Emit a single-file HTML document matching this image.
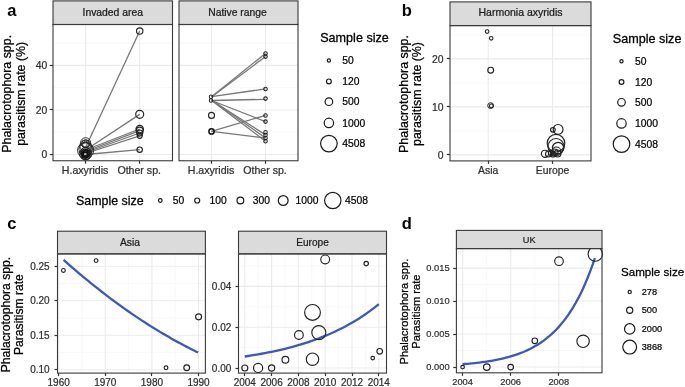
<!DOCTYPE html>
<html><head><meta charset="utf-8"><style>
html,body{margin:0;padding:0;background:#fff;}
body{width:685px;height:387px;overflow:hidden;}
svg{display:block;font-family:"Liberation Sans",sans-serif;will-change:transform;}
</style></head><body>
<svg width="685" height="387" viewBox="0 0 685 387">
<rect width="685" height="387" fill="#fff"/>
<text x="7.3" y="16" font-size="16.5" text-anchor="start" fill="#000" stroke="#000" stroke-width="0" font-weight="bold">a</text>
<line x1="53" y1="132.22" x2="172.5" y2="132.22" stroke="#f4f4f4" stroke-width="0.6"/>
<line x1="53" y1="87.67" x2="172.5" y2="87.67" stroke="#f4f4f4" stroke-width="0.6"/>
<line x1="53" y1="43.12" x2="172.5" y2="43.12" stroke="#f4f4f4" stroke-width="0.6"/>
<line x1="53" y1="154.5" x2="172.5" y2="154.5" stroke="#ebebeb" stroke-width="1.1"/>
<line x1="53" y1="109.95" x2="172.5" y2="109.95" stroke="#ebebeb" stroke-width="1.1"/>
<line x1="53" y1="65.4" x2="172.5" y2="65.4" stroke="#ebebeb" stroke-width="1.1"/>
<line x1="85.6" y1="24.5" x2="85.6" y2="160.75" stroke="#ebebeb" stroke-width="1.1"/>
<line x1="139.7" y1="24.5" x2="139.7" y2="160.75" stroke="#ebebeb" stroke-width="1.1"/>
<line x1="179" y1="132.22" x2="298" y2="132.22" stroke="#f4f4f4" stroke-width="0.6"/>
<line x1="179" y1="87.67" x2="298" y2="87.67" stroke="#f4f4f4" stroke-width="0.6"/>
<line x1="179" y1="43.12" x2="298" y2="43.12" stroke="#f4f4f4" stroke-width="0.6"/>
<line x1="179" y1="154.5" x2="298" y2="154.5" stroke="#ebebeb" stroke-width="1.1"/>
<line x1="179" y1="109.95" x2="298" y2="109.95" stroke="#ebebeb" stroke-width="1.1"/>
<line x1="179" y1="65.4" x2="298" y2="65.4" stroke="#ebebeb" stroke-width="1.1"/>
<line x1="211.5" y1="24.5" x2="211.5" y2="160.75" stroke="#ebebeb" stroke-width="1.1"/>
<line x1="265.5" y1="24.5" x2="265.5" y2="160.75" stroke="#ebebeb" stroke-width="1.1"/>
<line x1="85.6" y1="147.6" x2="139.7" y2="31" stroke="#777777" stroke-width="1.3"/>
<line x1="85.6" y1="150" x2="139.7" y2="114.4" stroke="#777777" stroke-width="1.3"/>
<line x1="85.6" y1="150" x2="139.7" y2="129" stroke="#777777" stroke-width="1.3"/>
<line x1="85.6" y1="151.5" x2="139.7" y2="130.6" stroke="#777777" stroke-width="1.3"/>
<line x1="85.6" y1="152.5" x2="139.7" y2="133" stroke="#777777" stroke-width="1.3"/>
<line x1="85.6" y1="153.5" x2="139.7" y2="135.8" stroke="#777777" stroke-width="1.3"/>
<line x1="85.6" y1="154.5" x2="139.7" y2="149.7" stroke="#777777" stroke-width="1.3"/>
<circle cx="85.6" cy="142.7" r="5" fill="none" stroke="#222222" stroke-width="0.9"/>
<circle cx="85.6" cy="143.6" r="4" fill="none" stroke="#222222" stroke-width="0.9"/>
<circle cx="85.6" cy="144.3" r="3" fill="none" stroke="#222222" stroke-width="0.9"/>
<circle cx="85.6" cy="146" r="5.8" fill="none" stroke="#222222" stroke-width="0.9"/>
<circle cx="85.6" cy="150.3" r="8" fill="none" stroke="#222222" stroke-width="1"/>
<circle cx="85.6" cy="149.5" r="6.6" fill="none" stroke="#222222" stroke-width="0.9"/>
<circle cx="85.6" cy="152.5" r="5.2" fill="none" stroke="#222222" stroke-width="1"/>
<circle cx="85.6" cy="153.2" r="4.2" fill="none" stroke="#222222" stroke-width="1.1"/>
<circle cx="85.6" cy="154" r="3.4" fill="none" stroke="#222222" stroke-width="1.3"/>
<circle cx="85.6" cy="155" r="4.6" fill="none" stroke="#222222" stroke-width="1.1"/>
<circle cx="85.6" cy="153.8" r="6.2" fill="none" stroke="#222222" stroke-width="0.9"/>
<circle cx="85.6" cy="154.5" r="2.2" fill="none" stroke="#222222" stroke-width="1.6"/>
<circle cx="84.6" cy="152.6" r="3.4" fill="none" stroke="#111" stroke-width="1"/>
<circle cx="86.6" cy="153.4" r="3.6" fill="none" stroke="#111" stroke-width="1"/>
<circle cx="85.1" cy="155.2" r="3" fill="none" stroke="#111" stroke-width="1.2"/>
<circle cx="139.7" cy="31" r="3.2" fill="none" stroke="#222222" stroke-width="1.15"/>
<circle cx="139.7" cy="114.3" r="4" fill="none" stroke="#222222" stroke-width="1.15"/>
<circle cx="139.7" cy="129" r="3.7" fill="none" stroke="#222222" stroke-width="1.15"/>
<circle cx="139.7" cy="130.6" r="3.5" fill="none" stroke="#222222" stroke-width="1.15"/>
<circle cx="139.7" cy="133" r="3" fill="none" stroke="#222222" stroke-width="1.15"/>
<circle cx="139.7" cy="135.8" r="2.5" fill="none" stroke="#222222" stroke-width="1.15"/>
<circle cx="139.7" cy="149.7" r="2.7" fill="none" stroke="#222222" stroke-width="1.15"/>
<line x1="211.5" y1="96.7" x2="265.5" y2="53.4" stroke="#777777" stroke-width="1.3"/>
<line x1="211.5" y1="96.9" x2="265.5" y2="56.6" stroke="#777777" stroke-width="1.3"/>
<line x1="211.5" y1="96.7" x2="265.5" y2="88.9" stroke="#777777" stroke-width="1.3"/>
<line x1="211.5" y1="100.5" x2="265.5" y2="99.3" stroke="#777777" stroke-width="1.3"/>
<line x1="211.5" y1="100.5" x2="265.5" y2="121.6" stroke="#777777" stroke-width="1.3"/>
<line x1="211.5" y1="100.3" x2="265.5" y2="134.9" stroke="#777777" stroke-width="1.3"/>
<line x1="211.5" y1="100" x2="265.5" y2="138" stroke="#777777" stroke-width="1.3"/>
<line x1="211.5" y1="100.5" x2="265.5" y2="141.2" stroke="#777777" stroke-width="1.3"/>
<line x1="211.5" y1="131.3" x2="265.5" y2="115.4" stroke="#777777" stroke-width="1.3"/>
<line x1="211.5" y1="131.3" x2="265.5" y2="138" stroke="#777777" stroke-width="1.3"/>
<circle cx="211" cy="96.7" r="1.7" fill="none" stroke="#222222" stroke-width="1.05"/>
<circle cx="211" cy="100.5" r="1.7" fill="none" stroke="#222222" stroke-width="1.05"/>
<circle cx="211.5" cy="115.4" r="3" fill="none" stroke="#222222" stroke-width="1.15"/>
<circle cx="211.5" cy="131.4" r="2.6" fill="none" stroke="#111" stroke-width="1.5"/>
<circle cx="265.5" cy="53.4" r="1.75" fill="none" stroke="#222222" stroke-width="1.05"/>
<circle cx="265.5" cy="56.6" r="1.75" fill="none" stroke="#222222" stroke-width="1.05"/>
<circle cx="265.5" cy="88.9" r="1.75" fill="none" stroke="#222222" stroke-width="1.05"/>
<circle cx="265.5" cy="98.6" r="1.75" fill="none" stroke="#222222" stroke-width="1.05"/>
<circle cx="265.5" cy="115.4" r="1.75" fill="none" stroke="#222222" stroke-width="1.05"/>
<circle cx="265.5" cy="121.6" r="1.75" fill="none" stroke="#222222" stroke-width="1.05"/>
<circle cx="265.5" cy="132.2" r="1.75" fill="none" stroke="#222222" stroke-width="1.05"/>
<circle cx="265.5" cy="134.9" r="1.75" fill="none" stroke="#222222" stroke-width="1.05"/>
<circle cx="265.5" cy="138" r="1.75" fill="none" stroke="#222222" stroke-width="1.05"/>
<circle cx="265.5" cy="141.2" r="1.75" fill="none" stroke="#222222" stroke-width="1.05"/>
<rect x="53" y="0.9" width="119.5" height="23.6" fill="#dbdbdb" stroke="#3a3a3a" stroke-width="1.1"/>
<rect x="53" y="24.5" width="119.5" height="136.25" fill="none" stroke="#3a3a3a" stroke-width="1.1"/>
<text x="112.75" y="15.8" font-size="10.35" text-anchor="middle" fill="#1a1a1a" stroke="#1a1a1a" stroke-width="0.228" font-weight="normal">Invaded area</text>
<rect x="179" y="0.9" width="119" height="23.6" fill="#dbdbdb" stroke="#3a3a3a" stroke-width="1.1"/>
<rect x="179" y="24.5" width="119" height="136.25" fill="none" stroke="#3a3a3a" stroke-width="1.1"/>
<text x="237.5" y="15.8" font-size="10.35" text-anchor="middle" fill="#1a1a1a" stroke="#1a1a1a" stroke-width="0.228" font-weight="normal">Native range</text>
<line x1="49.8" y1="154.5" x2="53" y2="154.5" stroke="#333333" stroke-width="1.2"/>
<text x="47.3" y="158.24" font-size="10.4" text-anchor="end" fill="#2e2e2e" stroke="#2e2e2e" stroke-width="0.229" font-weight="normal">0</text>
<line x1="49.8" y1="109.5" x2="53" y2="109.5" stroke="#333333" stroke-width="1.2"/>
<text x="47.3" y="113.69" font-size="10.4" text-anchor="end" fill="#2e2e2e" stroke="#2e2e2e" stroke-width="0.229" font-weight="normal">20</text>
<line x1="49.8" y1="65.5" x2="53" y2="65.5" stroke="#333333" stroke-width="1.2"/>
<text x="47.3" y="69.14" font-size="10.4" text-anchor="end" fill="#2e2e2e" stroke="#2e2e2e" stroke-width="0.229" font-weight="normal">40</text>
<line x1="85.5" y1="160.75" x2="85.5" y2="163.75" stroke="#333333" stroke-width="1.2"/>
<text x="85.1" y="173.6" font-size="10.6" text-anchor="middle" fill="#2e2e2e" stroke="#2e2e2e" stroke-width="0.233" font-weight="normal">H.axyridis</text>
<line x1="139.5" y1="160.75" x2="139.5" y2="163.75" stroke="#333333" stroke-width="1.2"/>
<text x="139.2" y="173.6" font-size="10.6" text-anchor="middle" fill="#2e2e2e" stroke="#2e2e2e" stroke-width="0.233" font-weight="normal">Other sp.</text>
<line x1="211.5" y1="160.75" x2="211.5" y2="163.75" stroke="#333333" stroke-width="1.2"/>
<text x="211" y="173.6" font-size="10.6" text-anchor="middle" fill="#2e2e2e" stroke="#2e2e2e" stroke-width="0.233" font-weight="normal">H.axyridis</text>
<line x1="265.5" y1="160.75" x2="265.5" y2="163.75" stroke="#333333" stroke-width="1.2"/>
<text x="265" y="173.6" font-size="10.6" text-anchor="middle" fill="#2e2e2e" stroke="#2e2e2e" stroke-width="0.233" font-weight="normal">Other sp.</text>
<text transform="translate(10.8 93.8) rotate(-90)" font-size="12.4" text-anchor="middle" fill="#000" stroke="#000" stroke-width="0.273">Phalacrotophora spp.</text>
<text transform="translate(24.7 93.8) rotate(-90)" font-size="12.4" text-anchor="middle" fill="#000" stroke="#000" stroke-width="0.273">parasitism rate (%)</text>
<text x="320.2" y="42.2" font-size="12.6" text-anchor="start" fill="#000" stroke="#000" stroke-width="0.277" font-weight="normal">Sample size</text>
<circle cx="328.9" cy="60.5" r="1.6" fill="none" stroke="#1a1a1a" stroke-width="1.2"/>
<text x="342.3" y="64.1" font-size="10.3" text-anchor="start" fill="#000" stroke="#000" stroke-width="0.227" font-weight="normal">50</text>
<circle cx="328.9" cy="81.4" r="2.4" fill="none" stroke="#1a1a1a" stroke-width="1.2"/>
<text x="342.3" y="85" font-size="10.3" text-anchor="start" fill="#000" stroke="#000" stroke-width="0.227" font-weight="normal">120</text>
<circle cx="328.9" cy="101.7" r="3.8" fill="none" stroke="#1a1a1a" stroke-width="1.2"/>
<text x="342.3" y="105.3" font-size="10.3" text-anchor="start" fill="#000" stroke="#000" stroke-width="0.227" font-weight="normal">500</text>
<circle cx="328.9" cy="122.9" r="4.7" fill="none" stroke="#1a1a1a" stroke-width="1.2"/>
<text x="342.3" y="126.5" font-size="10.3" text-anchor="start" fill="#000" stroke="#000" stroke-width="0.227" font-weight="normal">1000</text>
<circle cx="328.9" cy="143.6" r="8.3" fill="none" stroke="#1a1a1a" stroke-width="1.2"/>
<text x="342.3" y="147.2" font-size="10.3" text-anchor="start" fill="#000" stroke="#000" stroke-width="0.227" font-weight="normal">4508</text>
<text x="76.1" y="205" font-size="12.4" text-anchor="start" fill="#000" stroke="#000" stroke-width="0.273" font-weight="normal">Sample size</text>
<circle cx="160.3" cy="200.5" r="1.8" fill="none" stroke="#1a1a1a" stroke-width="1.2"/>
<text x="172.7" y="204.1" font-size="10.3" text-anchor="start" fill="#000" stroke="#000" stroke-width="0.227" font-weight="normal">50</text>
<circle cx="197.2" cy="200.5" r="2.5" fill="none" stroke="#1a1a1a" stroke-width="1.2"/>
<text x="209.6" y="204.1" font-size="10.3" text-anchor="start" fill="#000" stroke="#000" stroke-width="0.227" font-weight="normal">100</text>
<circle cx="240.4" cy="200.5" r="3.4" fill="none" stroke="#1a1a1a" stroke-width="1.2"/>
<text x="252.8" y="204.1" font-size="10.3" text-anchor="start" fill="#000" stroke="#000" stroke-width="0.227" font-weight="normal">300</text>
<circle cx="283.2" cy="200.5" r="4.9" fill="none" stroke="#1a1a1a" stroke-width="1.2"/>
<text x="295.6" y="204.1" font-size="10.3" text-anchor="start" fill="#000" stroke="#000" stroke-width="0.227" font-weight="normal">1000</text>
<circle cx="332.8" cy="200.5" r="8.2" fill="none" stroke="#1a1a1a" stroke-width="1.2"/>
<text x="345" y="204.1" font-size="10.3" text-anchor="start" fill="#000" stroke="#000" stroke-width="0.227" font-weight="normal">4508</text>
<text x="401.8" y="16" font-size="16.5" text-anchor="start" fill="#000" stroke="#000" stroke-width="0" font-weight="bold">b</text>
<line x1="450" y1="130.9" x2="591" y2="130.9" stroke="#f4f4f4" stroke-width="0.6"/>
<line x1="450" y1="82.9" x2="591" y2="82.9" stroke="#f4f4f4" stroke-width="0.6"/>
<line x1="450" y1="34.9" x2="591" y2="34.9" stroke="#f4f4f4" stroke-width="0.6"/>
<line x1="450" y1="154.9" x2="591" y2="154.9" stroke="#ebebeb" stroke-width="1.1"/>
<line x1="450" y1="106.9" x2="591" y2="106.9" stroke="#ebebeb" stroke-width="1.1"/>
<line x1="450" y1="58.9" x2="591" y2="58.9" stroke="#ebebeb" stroke-width="1.1"/>
<line x1="488.2" y1="25.6" x2="488.2" y2="160.9" stroke="#ebebeb" stroke-width="1.1"/>
<line x1="552.6" y1="25.6" x2="552.6" y2="160.9" stroke="#ebebeb" stroke-width="1.1"/>
<circle cx="487.1" cy="31.6" r="1.8" fill="none" stroke="#222222" stroke-width="1.1"/>
<circle cx="491.2" cy="38.3" r="1.8" fill="none" stroke="#222222" stroke-width="1.1"/>
<circle cx="490.7" cy="70.2" r="2.9" fill="none" stroke="#222222" stroke-width="1.15"/>
<circle cx="490.6" cy="105.6" r="2.9" fill="none" stroke="#222222" stroke-width="1"/>
<circle cx="491.3" cy="105.9" r="1.9" fill="none" stroke="#222222" stroke-width="1.15"/>
<circle cx="552.9" cy="129.8" r="2.3" fill="none" stroke="#222222" stroke-width="1.15"/>
<circle cx="558.1" cy="129.4" r="4.9" fill="none" stroke="#222222" stroke-width="1.15"/>
<circle cx="556" cy="143.2" r="8.8" fill="none" stroke="#222222" stroke-width="1.15"/>
<circle cx="556" cy="146.5" r="8" fill="none" stroke="#222222" stroke-width="1.15"/>
<circle cx="558.1" cy="148" r="5.7" fill="none" stroke="#222222" stroke-width="1.15"/>
<circle cx="556.5" cy="151.5" r="4.5" fill="none" stroke="#222222" stroke-width="1.15"/>
<circle cx="554.5" cy="152.5" r="3.5" fill="none" stroke="#222222" stroke-width="1.15"/>
<circle cx="557.5" cy="153.5" r="3.5" fill="none" stroke="#222222" stroke-width="1.15"/>
<circle cx="545" cy="153.8" r="3.6" fill="none" stroke="#222222" stroke-width="1.15"/>
<circle cx="548.5" cy="154" r="3" fill="none" stroke="#222222" stroke-width="1.15"/>
<circle cx="553" cy="154.5" r="2.5" fill="none" stroke="#222222" stroke-width="1.15"/>
<circle cx="551" cy="153" r="2.5" fill="none" stroke="#222222" stroke-width="1.15"/>
<rect x="450" y="1.9" width="141" height="23.7" fill="#dbdbdb" stroke="#3a3a3a" stroke-width="1.1"/>
<rect x="450" y="25.6" width="141" height="135.3" fill="none" stroke="#3a3a3a" stroke-width="1.1"/>
<text x="520.5" y="16.2" font-size="10.5" text-anchor="middle" fill="#1a1a1a" stroke="#1a1a1a" stroke-width="0.231" font-weight="normal">Harmonia axyridis</text>
<line x1="446.8" y1="154.5" x2="450" y2="154.5" stroke="#333333" stroke-width="1.2"/>
<text x="443.6" y="158.64" font-size="10.4" text-anchor="end" fill="#2e2e2e" stroke="#2e2e2e" stroke-width="0.229" font-weight="normal">0</text>
<line x1="446.8" y1="106.5" x2="450" y2="106.5" stroke="#333333" stroke-width="1.2"/>
<text x="443.6" y="110.64" font-size="10.4" text-anchor="end" fill="#2e2e2e" stroke="#2e2e2e" stroke-width="0.229" font-weight="normal">10</text>
<line x1="446.8" y1="58.5" x2="450" y2="58.5" stroke="#333333" stroke-width="1.2"/>
<text x="443.6" y="62.64" font-size="10.4" text-anchor="end" fill="#2e2e2e" stroke="#2e2e2e" stroke-width="0.229" font-weight="normal">20</text>
<line x1="488.5" y1="160.9" x2="488.5" y2="163.9" stroke="#333333" stroke-width="1.2"/>
<text x="488.2" y="174.2" font-size="10.4" text-anchor="middle" fill="#2e2e2e" stroke="#2e2e2e" stroke-width="0.229" font-weight="normal">Asia</text>
<line x1="552.5" y1="160.9" x2="552.5" y2="163.9" stroke="#333333" stroke-width="1.2"/>
<text x="552.6" y="174.2" font-size="10.4" text-anchor="middle" fill="#2e2e2e" stroke="#2e2e2e" stroke-width="0.229" font-weight="normal">Europe</text>
<text transform="translate(407.5 94) rotate(-90)" font-size="12.4" text-anchor="middle" fill="#000" stroke="#000" stroke-width="0.273">Phalacrotophora spp.</text>
<text transform="translate(421.4 94) rotate(-90)" font-size="12.4" text-anchor="middle" fill="#000" stroke="#000" stroke-width="0.273">parasitism rate (%)</text>
<text x="612.8" y="42.7" font-size="12.6" text-anchor="start" fill="#000" stroke="#000" stroke-width="0.277" font-weight="normal">Sample size</text>
<circle cx="621.5" cy="61.2" r="1.6" fill="none" stroke="#1a1a1a" stroke-width="1.2"/>
<text x="635" y="64.8" font-size="10.3" text-anchor="start" fill="#000" stroke="#000" stroke-width="0.227" font-weight="normal">50</text>
<circle cx="621.5" cy="82" r="2.4" fill="none" stroke="#1a1a1a" stroke-width="1.2"/>
<text x="635" y="85.6" font-size="10.3" text-anchor="start" fill="#000" stroke="#000" stroke-width="0.227" font-weight="normal">120</text>
<circle cx="621.5" cy="102.3" r="3.8" fill="none" stroke="#1a1a1a" stroke-width="1.2"/>
<text x="635" y="105.9" font-size="10.3" text-anchor="start" fill="#000" stroke="#000" stroke-width="0.227" font-weight="normal">500</text>
<circle cx="621.5" cy="123.4" r="4.7" fill="none" stroke="#1a1a1a" stroke-width="1.2"/>
<text x="635" y="127" font-size="10.3" text-anchor="start" fill="#000" stroke="#000" stroke-width="0.227" font-weight="normal">1000</text>
<circle cx="621.5" cy="144.1" r="8.3" fill="none" stroke="#1a1a1a" stroke-width="1.2"/>
<text x="635" y="147.7" font-size="10.3" text-anchor="start" fill="#000" stroke="#000" stroke-width="0.227" font-weight="normal">4508</text>
<text x="7.3" y="228.8" font-size="16.5" text-anchor="start" fill="#000" stroke="#000" stroke-width="0" font-weight="bold">c</text>
<line x1="57.5" y1="352.55" x2="205.4" y2="352.55" stroke="#f4f4f4" stroke-width="0.6"/>
<line x1="57.5" y1="318.05" x2="205.4" y2="318.05" stroke="#f4f4f4" stroke-width="0.6"/>
<line x1="57.5" y1="283.55" x2="205.4" y2="283.55" stroke="#f4f4f4" stroke-width="0.6"/>
<line x1="82" y1="253.9" x2="82" y2="373.1" stroke="#f4f4f4" stroke-width="0.6"/>
<line x1="128.6" y1="253.9" x2="128.6" y2="373.1" stroke="#f4f4f4" stroke-width="0.6"/>
<line x1="175.2" y1="253.9" x2="175.2" y2="373.1" stroke="#f4f4f4" stroke-width="0.6"/>
<line x1="57.5" y1="369.8" x2="205.4" y2="369.8" stroke="#ebebeb" stroke-width="1.1"/>
<line x1="57.5" y1="335.3" x2="205.4" y2="335.3" stroke="#ebebeb" stroke-width="1.1"/>
<line x1="57.5" y1="300.8" x2="205.4" y2="300.8" stroke="#ebebeb" stroke-width="1.1"/>
<line x1="57.5" y1="266.3" x2="205.4" y2="266.3" stroke="#ebebeb" stroke-width="1.1"/>
<line x1="58.7" y1="253.9" x2="58.7" y2="373.1" stroke="#ebebeb" stroke-width="1.1"/>
<line x1="105.3" y1="253.9" x2="105.3" y2="373.1" stroke="#ebebeb" stroke-width="1.1"/>
<line x1="151.9" y1="253.9" x2="151.9" y2="373.1" stroke="#ebebeb" stroke-width="1.1"/>
<line x1="198.5" y1="253.9" x2="198.5" y2="373.1" stroke="#ebebeb" stroke-width="1.1"/>
<line x1="238.5" y1="347.6" x2="386.5" y2="347.6" stroke="#f4f4f4" stroke-width="0.6"/>
<line x1="238.5" y1="306.8" x2="386.5" y2="306.8" stroke="#f4f4f4" stroke-width="0.6"/>
<line x1="238.5" y1="266" x2="386.5" y2="266" stroke="#f4f4f4" stroke-width="0.6"/>
<line x1="258.2" y1="253.9" x2="258.2" y2="373.1" stroke="#f4f4f4" stroke-width="0.6"/>
<line x1="285" y1="253.9" x2="285" y2="373.1" stroke="#f4f4f4" stroke-width="0.6"/>
<line x1="311.8" y1="253.9" x2="311.8" y2="373.1" stroke="#f4f4f4" stroke-width="0.6"/>
<line x1="338.6" y1="253.9" x2="338.6" y2="373.1" stroke="#f4f4f4" stroke-width="0.6"/>
<line x1="365.4" y1="253.9" x2="365.4" y2="373.1" stroke="#f4f4f4" stroke-width="0.6"/>
<line x1="238.5" y1="368" x2="386.5" y2="368" stroke="#ebebeb" stroke-width="1.1"/>
<line x1="238.5" y1="327.2" x2="386.5" y2="327.2" stroke="#ebebeb" stroke-width="1.1"/>
<line x1="238.5" y1="286.4" x2="386.5" y2="286.4" stroke="#ebebeb" stroke-width="1.1"/>
<line x1="244.8" y1="253.9" x2="244.8" y2="373.1" stroke="#ebebeb" stroke-width="1.1"/>
<line x1="271.6" y1="253.9" x2="271.6" y2="373.1" stroke="#ebebeb" stroke-width="1.1"/>
<line x1="298.4" y1="253.9" x2="298.4" y2="373.1" stroke="#ebebeb" stroke-width="1.1"/>
<line x1="325.2" y1="253.9" x2="325.2" y2="373.1" stroke="#ebebeb" stroke-width="1.1"/>
<line x1="352" y1="253.9" x2="352" y2="373.1" stroke="#ebebeb" stroke-width="1.1"/>
<line x1="378.8" y1="253.9" x2="378.8" y2="373.1" stroke="#ebebeb" stroke-width="1.1"/>
<polyline points="63.6,259.87 65.84,261.87 68.08,263.85 70.33,265.81 72.57,267.76 74.81,269.7 77.05,271.62 79.29,273.52 81.53,275.41 83.78,277.28 86.02,279.14 88.26,280.98 90.5,282.81 92.74,284.62 94.98,286.42 97.22,288.2 99.47,289.97 101.71,291.72 103.95,293.45 106.19,295.17 108.43,296.88 110.68,298.57 112.92,300.24 115.16,301.9 117.4,303.54 119.64,305.17 121.88,306.78 124.12,308.38 126.37,309.96 128.61,311.53 130.85,313.08 133.09,314.62 135.33,316.14 137.57,317.65 139.82,319.14 142.06,320.61 144.3,322.07 146.54,323.51 148.78,324.94 151.03,326.36 153.27,327.76 155.51,329.14 157.75,330.51 159.99,331.86 162.23,333.2 164.47,334.52 166.72,335.82 168.96,337.11 171.2,338.39 173.44,339.65 175.68,340.9 177.93,342.13 180.17,343.34 182.41,344.54 184.65,345.72 186.89,346.89 189.13,348.04 191.38,349.18 193.62,350.3 195.86,351.41 198.1,352.5" fill="none" stroke="#3d59b5" stroke-width="2.3" stroke-linecap="butt"/>
<circle cx="63.4" cy="270.4" r="1.9" fill="none" stroke="#222222" stroke-width="1.15"/>
<circle cx="96.1" cy="260.6" r="1.9" fill="none" stroke="#222222" stroke-width="1.15"/>
<circle cx="166" cy="367.7" r="1.9" fill="none" stroke="#222222" stroke-width="1.15"/>
<circle cx="186.7" cy="367.7" r="2.9" fill="none" stroke="#222222" stroke-width="1.15"/>
<circle cx="198.6" cy="316.8" r="3" fill="none" stroke="#222222" stroke-width="1.15"/>
<polyline points="244.8,356.49 248.15,355.99 251.5,355.47 254.85,354.92 258.2,354.34 261.55,353.75 264.9,353.12 268.25,352.47 271.6,351.79 274.95,351.08 278.3,350.34 281.65,349.57 285,348.76 288.35,347.92 291.7,347.04 295.05,346.13 298.4,345.17 301.75,344.17 305.1,343.13 308.45,342.04 311.8,340.91 315.15,339.72 318.5,338.48 321.85,337.19 325.2,335.84 328.55,334.44 331.9,332.97 335.25,331.43 338.6,329.83 341.95,328.16 345.3,326.42 348.65,324.6 352,322.7 355.35,320.72 358.7,318.65 362.05,316.49 365.4,314.24 368.75,311.89 372.1,309.43 375.45,306.87 378.8,304.19" fill="none" stroke="#3d59b5" stroke-width="2.3"/>
<clipPath id="cce"><rect x="238.5" y="253.9" width="148" height="119.2"/></clipPath>
<circle cx="244.8" cy="368" r="3" fill="none" stroke="#222222" stroke-width="1.15" clip-path="url(#cce)"/>
<circle cx="258.1" cy="367.9" r="4.6" fill="none" stroke="#222222" stroke-width="1.15" clip-path="url(#cce)"/>
<circle cx="271.6" cy="368" r="3.1" fill="none" stroke="#222222" stroke-width="1.15" clip-path="url(#cce)"/>
<circle cx="285.4" cy="359.7" r="3.4" fill="none" stroke="#222222" stroke-width="1.15" clip-path="url(#cce)"/>
<circle cx="298.9" cy="335" r="4.4" fill="none" stroke="#222222" stroke-width="1.15" clip-path="url(#cce)"/>
<circle cx="312.5" cy="312.4" r="7.9" fill="none" stroke="#222222" stroke-width="1.15" clip-path="url(#cce)"/>
<circle cx="312.5" cy="359.2" r="6.2" fill="none" stroke="#222222" stroke-width="1.15" clip-path="url(#cce)"/>
<circle cx="318.8" cy="332.6" r="7" fill="none" stroke="#222222" stroke-width="1.15" clip-path="url(#cce)"/>
<circle cx="325.2" cy="259.4" r="4.4" fill="none" stroke="#222222" stroke-width="1.15" clip-path="url(#cce)"/>
<circle cx="366.2" cy="263.6" r="2.2" fill="none" stroke="#222222" stroke-width="1.15" clip-path="url(#cce)"/>
<circle cx="372.7" cy="358.1" r="1.8" fill="none" stroke="#222222" stroke-width="1.15" clip-path="url(#cce)"/>
<circle cx="379.7" cy="351.3" r="2.8" fill="none" stroke="#222222" stroke-width="1.15" clip-path="url(#cce)"/>
<rect x="57.5" y="231.2" width="147.9" height="22.7" fill="#dbdbdb" stroke="#3a3a3a" stroke-width="1.1"/>
<rect x="57.5" y="253.9" width="147.9" height="119.2" fill="none" stroke="#3a3a3a" stroke-width="1.1"/>
<text x="129.95" y="245.5" font-size="10.3" text-anchor="middle" fill="#1a1a1a" stroke="#1a1a1a" stroke-width="0.227" font-weight="normal">Asia</text>
<rect x="238.5" y="231.2" width="148" height="22.7" fill="#dbdbdb" stroke="#3a3a3a" stroke-width="1.1"/>
<rect x="238.5" y="253.9" width="148" height="119.2" fill="none" stroke="#3a3a3a" stroke-width="1.1"/>
<text x="312.5" y="245.5" font-size="10.1" text-anchor="middle" fill="#1a1a1a" stroke="#1a1a1a" stroke-width="0.222" font-weight="normal">Europe</text>
<line x1="54.5" y1="369.5" x2="57.5" y2="369.5" stroke="#333333" stroke-width="1.2"/>
<text x="49.6" y="373.4" font-size="10" text-anchor="end" fill="#2e2e2e" stroke="#2e2e2e" stroke-width="0.22" font-weight="normal">0.10</text>
<line x1="54.5" y1="335.5" x2="57.5" y2="335.5" stroke="#333333" stroke-width="1.2"/>
<text x="49.6" y="338.9" font-size="10" text-anchor="end" fill="#2e2e2e" stroke="#2e2e2e" stroke-width="0.22" font-weight="normal">0.15</text>
<line x1="54.5" y1="300.5" x2="57.5" y2="300.5" stroke="#333333" stroke-width="1.2"/>
<text x="49.6" y="304.4" font-size="10" text-anchor="end" fill="#2e2e2e" stroke="#2e2e2e" stroke-width="0.22" font-weight="normal">0.20</text>
<line x1="54.5" y1="266.5" x2="57.5" y2="266.5" stroke="#333333" stroke-width="1.2"/>
<text x="49.6" y="269.9" font-size="10" text-anchor="end" fill="#2e2e2e" stroke="#2e2e2e" stroke-width="0.22" font-weight="normal">0.25</text>
<line x1="235.5" y1="368.5" x2="238.5" y2="368.5" stroke="#333333" stroke-width="1.2"/>
<text x="231.3" y="371.6" font-size="10" text-anchor="end" fill="#2e2e2e" stroke="#2e2e2e" stroke-width="0.22" font-weight="normal">0.00</text>
<line x1="235.5" y1="327.5" x2="238.5" y2="327.5" stroke="#333333" stroke-width="1.2"/>
<text x="231.3" y="330.8" font-size="10" text-anchor="end" fill="#2e2e2e" stroke="#2e2e2e" stroke-width="0.22" font-weight="normal">0.02</text>
<line x1="235.5" y1="286.5" x2="238.5" y2="286.5" stroke="#333333" stroke-width="1.2"/>
<text x="231.3" y="290" font-size="10" text-anchor="end" fill="#2e2e2e" stroke="#2e2e2e" stroke-width="0.22" font-weight="normal">0.04</text>
<line x1="58.5" y1="373.1" x2="58.5" y2="376.1" stroke="#333333" stroke-width="1.2"/>
<text x="58.7" y="386" font-size="10" text-anchor="middle" fill="#2e2e2e" stroke="#2e2e2e" stroke-width="0.22" font-weight="normal">1960</text>
<line x1="105.5" y1="373.1" x2="105.5" y2="376.1" stroke="#333333" stroke-width="1.2"/>
<text x="105.3" y="386" font-size="10" text-anchor="middle" fill="#2e2e2e" stroke="#2e2e2e" stroke-width="0.22" font-weight="normal">1970</text>
<line x1="151.5" y1="373.1" x2="151.5" y2="376.1" stroke="#333333" stroke-width="1.2"/>
<text x="151.9" y="386" font-size="10" text-anchor="middle" fill="#2e2e2e" stroke="#2e2e2e" stroke-width="0.22" font-weight="normal">1980</text>
<line x1="198.5" y1="373.1" x2="198.5" y2="376.1" stroke="#333333" stroke-width="1.2"/>
<text x="198.5" y="386" font-size="10" text-anchor="middle" fill="#2e2e2e" stroke="#2e2e2e" stroke-width="0.22" font-weight="normal">1990</text>
<line x1="244.5" y1="373.1" x2="244.5" y2="376.1" stroke="#333333" stroke-width="1.2"/>
<text x="244.8" y="386" font-size="10" text-anchor="middle" fill="#2e2e2e" stroke="#2e2e2e" stroke-width="0.22" font-weight="normal">2004</text>
<line x1="271.5" y1="373.1" x2="271.5" y2="376.1" stroke="#333333" stroke-width="1.2"/>
<text x="271.6" y="386" font-size="10" text-anchor="middle" fill="#2e2e2e" stroke="#2e2e2e" stroke-width="0.22" font-weight="normal">2006</text>
<line x1="298.5" y1="373.1" x2="298.5" y2="376.1" stroke="#333333" stroke-width="1.2"/>
<text x="298.4" y="386" font-size="10" text-anchor="middle" fill="#2e2e2e" stroke="#2e2e2e" stroke-width="0.22" font-weight="normal">2008</text>
<line x1="325.5" y1="373.1" x2="325.5" y2="376.1" stroke="#333333" stroke-width="1.2"/>
<text x="325.2" y="386" font-size="10" text-anchor="middle" fill="#2e2e2e" stroke="#2e2e2e" stroke-width="0.22" font-weight="normal">2010</text>
<line x1="352.5" y1="373.1" x2="352.5" y2="376.1" stroke="#333333" stroke-width="1.2"/>
<text x="352" y="386" font-size="10" text-anchor="middle" fill="#2e2e2e" stroke="#2e2e2e" stroke-width="0.22" font-weight="normal">2012</text>
<line x1="378.5" y1="373.1" x2="378.5" y2="376.1" stroke="#333333" stroke-width="1.2"/>
<text x="378.8" y="386" font-size="10" text-anchor="middle" fill="#2e2e2e" stroke="#2e2e2e" stroke-width="0.22" font-weight="normal">2014</text>
<text transform="translate(10 314.6) rotate(-90)" font-size="12.15" text-anchor="middle" fill="#000" stroke="#000" stroke-width="0.267">Phalacrotophora spp.</text>
<text transform="translate(23.2 314.6) rotate(-90)" font-size="12.15" text-anchor="middle" fill="#000" stroke="#000" stroke-width="0.267">Parasitism rate</text>
<text x="401.8" y="228.6" font-size="16.5" text-anchor="start" fill="#000" stroke="#000" stroke-width="0" font-weight="bold">d</text>
<line x1="456.4" y1="350.51" x2="602" y2="350.51" stroke="#f4f4f4" stroke-width="0.6"/>
<line x1="456.4" y1="317.55" x2="602" y2="317.55" stroke="#f4f4f4" stroke-width="0.6"/>
<line x1="456.4" y1="284.57" x2="602" y2="284.57" stroke="#f4f4f4" stroke-width="0.6"/>
<line x1="456.4" y1="251.6" x2="602" y2="251.6" stroke="#f4f4f4" stroke-width="0.6"/>
<line x1="486.65" y1="248.6" x2="486.65" y2="372.8" stroke="#f4f4f4" stroke-width="0.6"/>
<line x1="534.75" y1="248.6" x2="534.75" y2="372.8" stroke="#f4f4f4" stroke-width="0.6"/>
<line x1="582.85" y1="248.6" x2="582.85" y2="372.8" stroke="#f4f4f4" stroke-width="0.6"/>
<line x1="456.4" y1="367" x2="602" y2="367" stroke="#ebebeb" stroke-width="1.1"/>
<line x1="456.4" y1="334.03" x2="602" y2="334.03" stroke="#ebebeb" stroke-width="1.1"/>
<line x1="456.4" y1="301.06" x2="602" y2="301.06" stroke="#ebebeb" stroke-width="1.1"/>
<line x1="456.4" y1="268.09" x2="602" y2="268.09" stroke="#ebebeb" stroke-width="1.1"/>
<line x1="462.6" y1="248.6" x2="462.6" y2="372.8" stroke="#ebebeb" stroke-width="1.1"/>
<line x1="510.7" y1="248.6" x2="510.7" y2="372.8" stroke="#ebebeb" stroke-width="1.1"/>
<line x1="558.8" y1="248.6" x2="558.8" y2="372.8" stroke="#ebebeb" stroke-width="1.1"/>
<polyline points="462.6,364.2 465,364 467.41,363.8 469.81,363.58 472.22,363.34 474.62,363.09 477.03,362.82 479.44,362.53 481.84,362.23 484.25,361.9 486.65,361.55 489.05,361.17 491.46,360.77 493.86,360.34 496.27,359.89 498.68,359.4 501.08,358.87 503.49,358.31 505.89,357.72 508.3,357.08 510.7,356.39 513.1,355.66 515.51,354.88 517.91,354.05 520.32,353.16 522.73,352.21 525.13,351.19 527.54,350.1 529.94,348.94 532.35,347.69 534.75,346.36 537.15,344.94 539.56,343.43 541.96,341.81 544.37,340.07 546.77,338.22 549.18,336.24 551.59,334.12 553.99,331.86 556.4,329.44 558.8,326.86 561.2,324.09 563.61,321.14 566.01,317.98 568.42,314.61 570.83,311.01 573.23,307.15 575.64,303.03 578.04,298.63 580.45,293.93 582.85,288.9 585.25,283.53 587.66,277.78 590.06,271.64 592.47,265.08 594.88,258.07" fill="none" stroke="#3d59b5" stroke-width="2.3"/>
<clipPath id="cd"><rect x="456.4" y="248.6" width="147.1" height="124.2"/></clipPath>
<circle cx="462.6" cy="367.1" r="1.8" fill="none" stroke="#222222" stroke-width="1.15" clip-path="url(#cd)"/>
<circle cx="486.8" cy="367.1" r="3.3" fill="none" stroke="#222222" stroke-width="1.15" clip-path="url(#cd)"/>
<circle cx="510.7" cy="367.1" r="2.8" fill="none" stroke="#222222" stroke-width="1.15" clip-path="url(#cd)"/>
<circle cx="534.8" cy="340.8" r="2.8" fill="none" stroke="#222222" stroke-width="1.15" clip-path="url(#cd)"/>
<circle cx="559" cy="261.2" r="4.3" fill="none" stroke="#222222" stroke-width="1.15" clip-path="url(#cd)"/>
<circle cx="583.1" cy="341.3" r="6.2" fill="none" stroke="#222222" stroke-width="1.15" clip-path="url(#cd)"/>
<circle cx="595.3" cy="254" r="7.2" fill="none" stroke="#222222" stroke-width="1.15" clip-path="url(#cd)"/>
<rect x="456.4" y="230.4" width="145.6" height="18.2" fill="#dbdbdb" stroke="#3a3a3a" stroke-width="1.1"/>
<rect x="456.4" y="248.6" width="145.6" height="124.2" fill="none" stroke="#3a3a3a" stroke-width="1.1"/>
<text x="529.2" y="242.6" font-size="9.2" text-anchor="middle" fill="#1a1a1a" stroke="#1a1a1a" stroke-width="0.202" font-weight="normal">UK</text>
<line x1="453.2" y1="367.5" x2="456.4" y2="367.5" stroke="#333333" stroke-width="1.2"/>
<text x="449.6" y="370.35" font-size="9.3" text-anchor="end" fill="#2e2e2e" stroke="#2e2e2e" stroke-width="0.205" font-weight="normal">0.000</text>
<line x1="453.2" y1="334.5" x2="456.4" y2="334.5" stroke="#333333" stroke-width="1.2"/>
<text x="449.6" y="337.38" font-size="9.3" text-anchor="end" fill="#2e2e2e" stroke="#2e2e2e" stroke-width="0.205" font-weight="normal">0.005</text>
<line x1="453.2" y1="301.5" x2="456.4" y2="301.5" stroke="#333333" stroke-width="1.2"/>
<text x="449.6" y="304.41" font-size="9.3" text-anchor="end" fill="#2e2e2e" stroke="#2e2e2e" stroke-width="0.205" font-weight="normal">0.010</text>
<line x1="453.2" y1="268.5" x2="456.4" y2="268.5" stroke="#333333" stroke-width="1.2"/>
<text x="449.6" y="271.44" font-size="9.3" text-anchor="end" fill="#2e2e2e" stroke="#2e2e2e" stroke-width="0.205" font-weight="normal">0.015</text>
<line x1="462.5" y1="372.8" x2="462.5" y2="375.8" stroke="#333333" stroke-width="1.2"/>
<text x="462.6" y="384.5" font-size="9.3" text-anchor="middle" fill="#2e2e2e" stroke="#2e2e2e" stroke-width="0.205" font-weight="normal">2004</text>
<line x1="510.5" y1="372.8" x2="510.5" y2="375.8" stroke="#333333" stroke-width="1.2"/>
<text x="510.7" y="384.5" font-size="9.3" text-anchor="middle" fill="#2e2e2e" stroke="#2e2e2e" stroke-width="0.205" font-weight="normal">2006</text>
<line x1="558.5" y1="372.8" x2="558.5" y2="375.8" stroke="#333333" stroke-width="1.2"/>
<text x="558.8" y="384.5" font-size="9.3" text-anchor="middle" fill="#2e2e2e" stroke="#2e2e2e" stroke-width="0.205" font-weight="normal">2008</text>
<text transform="translate(408.4 311.6) rotate(-90)" font-size="11.15" text-anchor="middle" fill="#000" stroke="#000" stroke-width="0.245">Phalacrotophora spp.</text>
<text transform="translate(420 311.6) rotate(-90)" font-size="11.15" text-anchor="middle" fill="#000" stroke="#000" stroke-width="0.245">Parasitism rate</text>
<text x="621" y="275.7" font-size="11.6" text-anchor="start" fill="#000" stroke="#000" stroke-width="0.255" font-weight="normal">Sample size</text>
<circle cx="629.7" cy="291.9" r="1.6" fill="none" stroke="#1a1a1a" stroke-width="1.2"/>
<text x="641.7" y="294.9" font-size="9.2" text-anchor="start" fill="#000" stroke="#000" stroke-width="0.202" font-weight="normal">278</text>
<circle cx="629.7" cy="310.3" r="3.1" fill="none" stroke="#1a1a1a" stroke-width="1.2"/>
<text x="641.7" y="313.3" font-size="9.2" text-anchor="start" fill="#000" stroke="#000" stroke-width="0.202" font-weight="normal">500</text>
<circle cx="629.7" cy="328.9" r="5.2" fill="none" stroke="#1a1a1a" stroke-width="1.2"/>
<text x="641.7" y="331.9" font-size="9.2" text-anchor="start" fill="#000" stroke="#000" stroke-width="0.202" font-weight="normal">2000</text>
<circle cx="629.7" cy="347.1" r="6.9" fill="none" stroke="#1a1a1a" stroke-width="1.2"/>
<text x="641.7" y="350.1" font-size="9.2" text-anchor="start" fill="#000" stroke="#000" stroke-width="0.202" font-weight="normal">3868</text>
</svg>
</body></html>
